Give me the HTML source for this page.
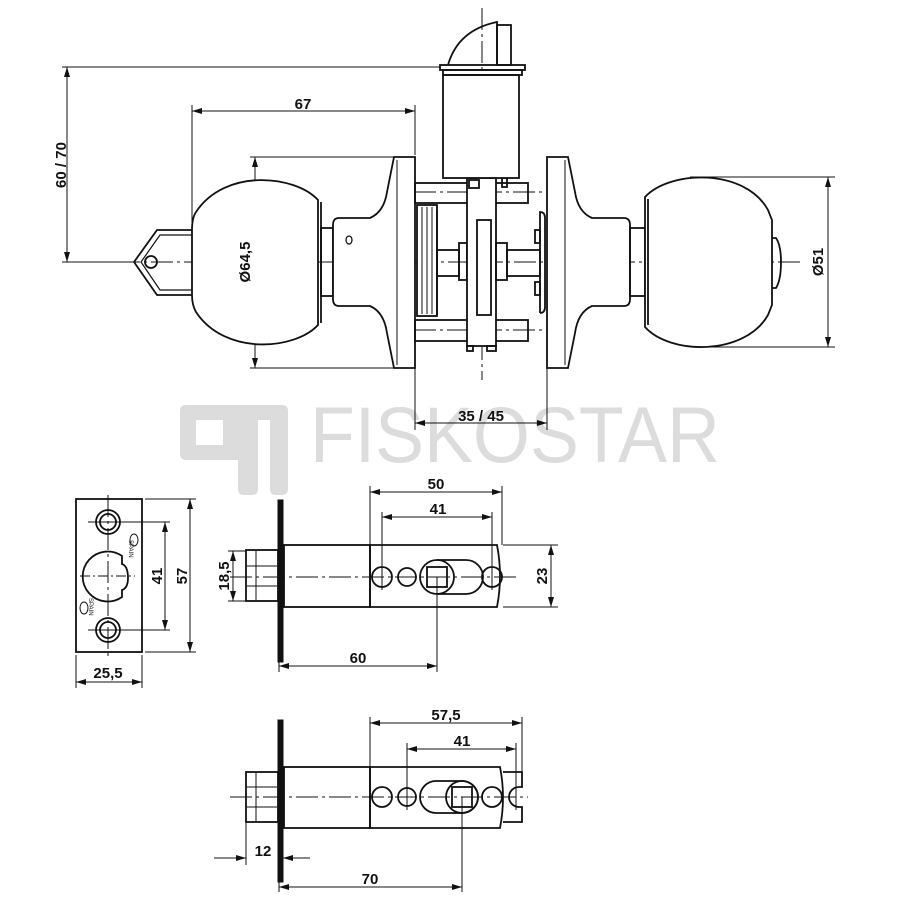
<!DOCTYPE html>
<html><head><meta charset="utf-8"><style>
html,body{margin:0;padding:0;background:#fff;}
svg{display:block;}
text{font-family:"Liberation Sans",Arial,sans-serif;font-weight:bold;font-size:15px;fill:#111;}
</style></head><body>
<svg width="900" height="900" viewBox="0 0 900 900" xmlns="http://www.w3.org/2000/svg">
<defs>
<marker id="a" viewBox="0 0 10 6" refX="10" refY="3" markerWidth="10" markerHeight="6" markerUnits="userSpaceOnUse" orient="auto-start-reverse"><path d="M0,0 L10,3 L0,6 Z" fill="#111"/></marker>
</defs>

<!-- watermark -->
<g fill="#dcdcdc">
<path d="M186,405 H238 V460 H186 Q180,460 180,454 V411 Q180,405 186,405 Z M196,420 V445 H223 V420 Z" fill-rule="evenodd"/>
<path d="M238,405 H282 Q288,405 288,411 V489 Q288,495 282,495 H276 Q270,495 270,489 V420 H258 V489 Q258,495 252,495 H244 Q238,495 238,489 Z"/>
</g>
<text x="310" y="462" font-size="79" font-weight="normal" fill="#dcdcdc" style="fill:#dcdcdc;font-weight:normal;font-size:79px" textLength="410" lengthAdjust="spacingAndGlyphs">FISKOSTAR</text>

<g stroke="#111" fill="none" stroke-width="1">
<!-- centerlines -->
<line x1="118" y1="262" x2="800" y2="262" stroke-dasharray="22,4,3,4"/>
<line x1="482" y1="8" x2="482" y2="380" stroke-dasharray="22,4,3,4"/>
<line x1="414" y1="192" x2="560" y2="192" stroke-dasharray="22,4,3,4"/>
<line x1="414" y1="330" x2="560" y2="330" stroke-dasharray="22,4,3,4"/>

<!-- dimension 60/70 -->
<line x1="62" y1="67" x2="440" y2="67"/>
<line x1="62" y1="262" x2="130" y2="262"/>
<line x1="67" y1="67" x2="67" y2="262" marker-start="url(#a)" marker-end="url(#a)"/>
<!-- 67 -->
<line x1="192" y1="105" x2="192" y2="230"/>
<line x1="415" y1="105" x2="415" y2="155"/>
<line x1="192" y1="111" x2="415" y2="111" marker-start="url(#a)" marker-end="url(#a)"/>
<!-- Ø64.5 -->
<line x1="250" y1="157" x2="395" y2="157"/>
<line x1="250" y1="368" x2="395" y2="368"/>
<line x1="255" y1="157" x2="255" y2="368" marker-start="url(#a)" marker-end="url(#a)"/>
<!-- Ø51 -->
<line x1="690" y1="177" x2="835" y2="177"/>
<line x1="690" y1="347" x2="835" y2="347"/>
<line x1="828" y1="177" x2="828" y2="347" marker-start="url(#a)" marker-end="url(#a)"/>
<!-- 35/45 -->
<line x1="415" y1="368" x2="415" y2="430"/>
<line x1="547" y1="368" x2="547" y2="430"/>
<line x1="415" y1="423" x2="547" y2="423" marker-start="url(#a)" marker-end="url(#a)"/>

<g stroke-width="1.8">
<!-- key -->
<path d="M192,230 L157,230 L134,262 L157,295 L192,295"/>
<path d="M192,235 L160,235 L141,262 L160,290 L192,290" stroke-width="1.2"/>
<circle cx="151" cy="262" r="6"/>
<!-- left ball -->
<path d="M318,200 C295,175 225,168 196,212 Q192,218 192,230 L192,295 Q192,305 196,312 C225,356 295,350 318,325 Z" fill="#fff"/>
<line x1="321" y1="202" x2="321" y2="323"/>
<rect x="321" y="228" width="12" height="68"/>
<!-- left rose -->
<path d="M339,218 L370,218 Q384,212 387,192 L394,157 L415,157 L415,368 L394,368 L387,333 Q384,312 370,306 L339,306 Q333,306 333,299 L333,225 Q333,218 339,218 Z" fill="#fff"/>
<line x1="397" y1="160" x2="397" y2="365" stroke-width="1"/>
<ellipse cx="349" cy="240" rx="3" ry="4" stroke-width="1.3"/>
<!-- right rose -->
<path d="M624,218 L592,218 Q578,212 575,192 L568,157 L547,157 L547,368 L568,368 L575,333 Q578,312 592,306 L624,306 Q630,306 630,299 L630,225 Q630,218 624,218 Z" fill="#fff"/>
<line x1="565" y1="160" x2="565" y2="365" stroke-width="1"/>
<rect x="630" y="228" width="15" height="68"/>
<path d="M645,197 C670,170 745,168 768,210 L772,220 L772,305 L768,315 C745,356 670,355 645,327 Z" fill="#fff"/>
<line x1="648" y1="199" x2="648" y2="325"/>
<path d="M772,238 L776,238 Q781,245 781,262 Q781,280 776,288 L772,288"/>

<!-- mechanism -->
<rect x="415" y="183" width="113" height="20"/>
<rect x="415" y="320" width="113" height="21"/>
<rect x="417" y="205" width="20" height="111" fill="#fff"/>
<line x1="422" y1="207" x2="422" y2="314" stroke-width="1"/>
<line x1="427" y1="207" x2="427" y2="314" stroke-width="1"/>
<line x1="432" y1="207" x2="432" y2="314" stroke-width="1"/>
<line x1="437" y1="210" x2="437" y2="315"/>
<rect x="437" y="250" width="22" height="26"/>
<rect x="459" y="243" width="8" height="37"/>
<rect x="467" y="178" width="29" height="168" fill="#fff"/>
<rect x="477" y="220" width="14" height="95"/>
<rect x="496" y="243" width="11" height="37"/>
<rect x="507" y="250" width="33" height="26"/>
<path d="M540,313 L540,212 Q545,212 545,218 L545,307 Q545,313 540,313"/>
<rect x="535" y="230" width="5" height="13"/>
<rect x="535" y="282" width="5" height="13"/>
<rect x="467" y="346" width="6" height="5"/>
<rect x="487" y="346" width="9" height="5"/>
<rect x="469" y="180" width="10" height="8"/>
<rect x="502" y="178" width="5" height="9"/>
<!-- cylinder -->
<rect x="443" y="75" width="76" height="103" fill="#fff"/>
<rect x="440" y="65" width="85" height="5"/>
<rect x="443" y="70" width="79" height="5"/>
<path d="M448,65 Q458,30 497,22 L497,65"/>
<rect x="497" y="25" width="14" height="40"/>
</g>

<!-- strike plate -->
<g stroke-width="1.8">
<rect x="76" y="499" width="66" height="153"/>
<circle cx="108" cy="522" r="12"/><circle cx="108" cy="522" r="8"/>
<circle cx="108" cy="630" r="12"/><circle cx="108" cy="630" r="8"/>
<path d="M122,556 A25,25 0 1 0 122,597 L122,590 Q128,588 128,578 Q128,566 122,564 Z"/>
</g>
<ellipse cx="134" cy="540" rx="4" ry="6" stroke-width="1"/>
<ellipse cx="84" cy="608" rx="4" ry="6" stroke-width="1"/>
<line x1="108" y1="495" x2="108" y2="660" stroke-dasharray="22,4,3,4"/>
<line x1="88" y1="522" x2="170" y2="522"/>
<line x1="88" y1="630" x2="170" y2="630"/>
<line x1="80" y1="576" x2="135" y2="576" stroke-dasharray="10,3,2,3"/>
<line x1="145" y1="499" x2="196" y2="499"/>
<line x1="145" y1="652" x2="196" y2="652"/>
<line x1="165" y1="522" x2="165" y2="630" marker-start="url(#a)" marker-end="url(#a)"/>
<line x1="190" y1="499" x2="190" y2="652" marker-start="url(#a)" marker-end="url(#a)"/>
<line x1="76" y1="655" x2="76" y2="688"/>
<line x1="142" y1="655" x2="142" y2="688"/>
<line x1="76" y1="682" x2="142" y2="682" marker-start="url(#a)" marker-end="url(#a)"/>

<!-- latch 1 -->
<rect x="278" y="500" width="5" height="162" fill="#111"/>
<g stroke-width="1.8">
<rect x="246" y="550" width="32" height="51"/>
<line x1="256" y1="551" x2="256" y2="600" stroke-width="1"/>
<line x1="247" y1="566" x2="277" y2="566" stroke-width="1"/>
<line x1="247" y1="586" x2="277" y2="586" stroke-width="1"/>
<rect x="284" y="545" width="86" height="62"/>
<path d="M370,545 L497,545 Q503,576 497,607 L370,607 Z"/>
<circle cx="382" cy="577" r="10"/>
<circle cx="407" cy="577" r="9"/>
<path d="M437,560 L466,560 A17,17 0 0 1 466,594 L437,594"/>
<circle cx="437" cy="577" r="17"/>
<rect x="427" y="567" width="20" height="20"/>
<circle cx="492" cy="577" r="10"/>
</g>
<line x1="230" y1="577" x2="520" y2="577" stroke-dasharray="22,4,3,4"/>
<line x1="370" y1="486" x2="370" y2="545"/>
<line x1="502" y1="486" x2="502" y2="545"/>
<line x1="382" y1="512" x2="382" y2="590"/>
<line x1="492" y1="512" x2="492" y2="590"/>
<line x1="370" y1="492" x2="502" y2="492" marker-start="url(#a)" marker-end="url(#a)"/>
<line x1="382" y1="517" x2="492" y2="517" marker-start="url(#a)" marker-end="url(#a)"/>
<line x1="503" y1="545" x2="558" y2="545"/>
<line x1="503" y1="607" x2="558" y2="607"/>
<line x1="551" y1="545" x2="551" y2="607" marker-start="url(#a)" marker-end="url(#a)"/>
<line x1="228" y1="551" x2="246" y2="551"/>
<line x1="228" y1="601" x2="246" y2="601"/>
<line x1="233" y1="551" x2="233" y2="601" marker-start="url(#a)" marker-end="url(#a)"/>
<line x1="279" y1="662" x2="279" y2="672"/>
<line x1="437" y1="577" x2="437" y2="672"/>
<line x1="279" y1="666" x2="437" y2="666" marker-start="url(#a)" marker-end="url(#a)"/>

<!-- latch 2 -->
<rect x="278" y="720" width="5" height="162" fill="#111"/>
<g stroke-width="1.8">
<rect x="246" y="772" width="32" height="50"/>
<line x1="256" y1="773" x2="256" y2="821" stroke-width="1"/>
<line x1="247" y1="787" x2="277" y2="787" stroke-width="1"/>
<line x1="247" y1="807" x2="277" y2="807" stroke-width="1"/>
<rect x="284" y="767" width="86" height="61"/>
<path d="M370,767 L500,767 Q506,797 500,828 L370,828 Z"/>
<path d="M503,772 L522,772 L522,787 L519,787 A8,8 0 0 0 519,807 L522,807 L522,822 L503,822"/>
<circle cx="382" cy="797" r="10"/>
<circle cx="407" cy="797" r="9"/>
<path d="M436,781 L462,781 A16,16 0 0 1 462,813 L436,813 A16,16 0 0 1 436,781 Z"/>
<circle cx="462" cy="797" r="16"/>
<rect x="452" y="787" width="20" height="20"/>
<circle cx="492" cy="797" r="10"/>
</g>
<line x1="230" y1="797" x2="528" y2="797" stroke-dasharray="22,4,3,4"/>
<line x1="370" y1="717" x2="370" y2="767"/>
<line x1="522" y1="717" x2="522" y2="772"/>
<line x1="407" y1="743" x2="407" y2="810"/>
<line x1="516" y1="743" x2="516" y2="810"/>
<line x1="370" y1="723" x2="522" y2="723" marker-start="url(#a)" marker-end="url(#a)"/>
<line x1="407" y1="749" x2="516" y2="749" marker-start="url(#a)" marker-end="url(#a)"/>
<line x1="246" y1="823" x2="246" y2="865"/>
<line x1="214" y1="858" x2="246" y2="858" marker-end="url(#a)"/>
<line x1="310" y1="858" x2="283" y2="858" marker-end="url(#a)"/>
<line x1="279" y1="882" x2="279" y2="892"/>
<line x1="462" y1="797" x2="462" y2="892"/>
<line x1="279" y1="887" x2="462" y2="887" marker-start="url(#a)" marker-end="url(#a)"/>
</g>

<!-- labels -->
<text x="303" y="109" text-anchor="middle">67</text>
<text transform="translate(66,165) rotate(-90)" text-anchor="middle">60 / 70</text>
<text transform="translate(250,262) rotate(-90)" text-anchor="middle">Ø64,5</text>
<text transform="translate(823,262) rotate(-90)" text-anchor="middle">Ø51</text>
<text x="481" y="421" text-anchor="middle">35 / 45</text>
<text transform="translate(162,576) rotate(-90)" text-anchor="middle">41</text>
<text transform="translate(187,576) rotate(-90)" text-anchor="middle">57</text>
<text x="108" y="678" text-anchor="middle">25,5</text>
<text x="436" y="489" text-anchor="middle">50</text>
<text x="438" y="514" text-anchor="middle">41</text>
<text transform="translate(547,576) rotate(-90)" text-anchor="middle">23</text>
<text transform="translate(229,576) rotate(-90)" text-anchor="middle">18,5</text>
<text x="358" y="663" text-anchor="middle">60</text>
<text x="446" y="720" text-anchor="middle">57,5</text>
<text x="462" y="746" text-anchor="middle">41</text>
<text x="263" y="856" text-anchor="middle">12</text>
<text x="370" y="884" text-anchor="middle">70</text>
<text transform="translate(129,540) rotate(90)" font-size="6" style="font-size:6px;font-weight:normal">SPAIN</text>
<text transform="translate(89,598) rotate(90)" font-size="6" style="font-size:6px;font-weight:normal">SPAIN</text>
</svg>
</body></html>
